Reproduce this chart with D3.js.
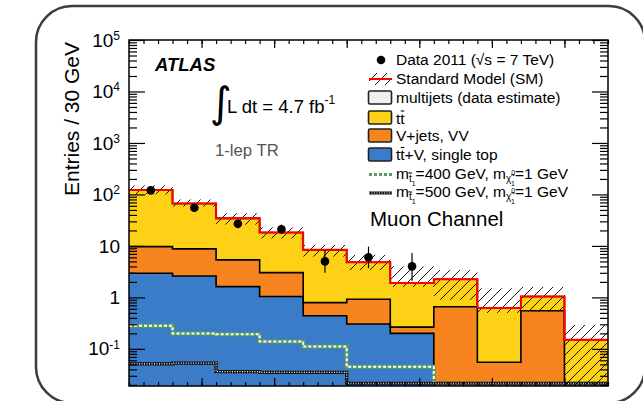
<!DOCTYPE html>
<html>
<head>
<meta charset="utf-8">
<script src="https://cdn.jsdelivr.net/npm/d3@7"></script>
<style>
  body { margin: 0; background: #fff; }
  svg { display: block; font-family: "Liberation Sans", Arial, Helvetica, sans-serif; }
</style>
</head>
<body>
<svg id="chart" width="643" height="401"></svg>
<script>
// Bin edges (GeV), 30 GeV per bin
const binEdges = [0, 30, 60, 90, 120, 150, 180, 210, 240, 270, 300, 330];

// Background expectations per bin (stacked, bottom to top)
const ttVSingleTop = [2.95, 2.6, 1.62, 1.04, 0.44, 0.305, 0.20, 0.022, 0, 0, 0];
const vJetsVV      = [6.75, 6.15, 3.73, 1.99, 0.35, 0.615, 0.064, 0.638, 0.055, 0.55, 0];
const ttbar        = [112, 58, 29, 15.2, 7.6, 3.9, 1.63, 1.59, 0.565, 0.49, 0.15];
const multijets    = [0, 0, 0, 0, 0, 0, 0, 0, 0, 0, 0];

// SM uncertainty band (lower / upper edge)
const smBandLow  = [100, 58, 26, 14, 6.2, 3.4, 1.6, 0.9, 0.5, 0.53, 0.01];
const smBandHigh = [150, 80, 43, 23, 10.4, 6.7, 4.0, 3.4, 1.5, 1.6, 0.29];

// Data 2011 (first seven bins) with error bar ends
const dataCounts = [120, 55, 27, 21, 5, 6, 4];
const dataErrLow  = [109, 48, 22, 17, 3.0, 3.7, 2.1];
const dataErrHigh = [131, 62, 32, 26, 8.4, 9.7, 7.3];

// Signal benchmarks
const stop400 = [0.28, 0.20, 0.193, 0.139, 0.111, 0.045, 0.045, 0.021, 0.021, 0.021, 0.021];
const stop500 = [0.051, 0.053, 0.036, 0.035, 0.035, 0.0215, 0.0215, 0.0215, 0.0215, 0.0215, 0.0215];

// Axis ticks
const yMajorTicks = [0.1, 1, 10, 100, 1000, 10000, 100000];
const yTickBase   = ["10", "1", "10", "10", "10", "10", "10"];
const yTickExp    = ["-1", "", "", "2", "3", "4", "5"];
const xMinorTicks = d3.range(0, 331, 10);
const xMajorTicks = [50, 100, 150, 200, 250, 300];

const svg = d3.select("#chart");
const plot = { l: 129, r: 608, t: 40, b: 386 };
const yMin = 0.019;

const x = d3.scaleLinear().domain([binEdges[0], binEdges[binEdges.length - 1]]).range([plot.l, plot.r]);
const y = d3.scaleLog().domain([yMin, 1e5]).range([plot.b, plot.t]).clamp(true);
const yv = v => y(Math.max(v, yMin));

const COLORS = { multijets: "#efefef", ttbar: "#fcd116", vjets: "#f7841f", ttv: "#3a7cc8", sm: "#ff0000", stop400: "#5a9a5c" };

// Outer rounded frame
svg.append("rect")
  .attr("x", 36).attr("y", 6).attr("width", 609).attr("height", 397)
  .attr("rx", 36).attr("ry", 36)
  .attr("fill", "none").attr("stroke", "#3c3c3c").attr("stroke-width", 2.5);

const defs = svg.append("defs");
defs.append("clipPath").attr("id", "plotClip").append("rect")
  .attr("x", plot.l).attr("y", plot.t).attr("width", plot.r - plot.l).attr("height", plot.b - plot.t);
const hatch = defs.append("pattern").attr("id", "hatch")
  .attr("patternUnits", "userSpaceOnUse").attr("width", 10).attr("height", 10);
hatch.append("path").attr("d", "M-1,1 L1,-1 M0,10 L10,0 M9,11 L11,9")
  .attr("stroke", "#000").attr("stroke-width", 0.9).attr("fill", "none");

// cumulative stacks
const cum1 = ttVSingleTop.slice();
const cum2 = cum1.map((v, i) => v + vJetsVV[i]);
const cum3 = cum2.map((v, i) => v + ttbar[i]);
const cum4 = cum3.map((v, i) => v + multijets[i]);

const steps = vals => vals.flatMap((v, i) => [[binEdges[i], v], [binEdges[i + 1], v]]);
const area = d3.area().x(d => x(d[0])).y0(plot.b).y1(d => yv(d[1]));
const line = d3.line().x(d => x(d[0])).y(d => yv(d[1]));

const g = svg.append("g").attr("clip-path", "url(#plotClip)");

[[cum4, COLORS.multijets], [cum3, COLORS.ttbar], [cum2, COLORS.vjets], [cum1, COLORS.ttv]].forEach(([vals, col]) => {
  g.append("path").attr("d", area(steps(vals))).attr("fill", col);
});
[cum1, cum2, cum3].forEach(vals => {
  g.append("path").attr("d", line(steps(vals))).attr("fill", "none")
    .attr("stroke", "#000").attr("stroke-width", 1.6);
});

// signal step lines
g.append("path").attr("d", line(steps(stop400))).attr("fill", "none")
  .attr("stroke", COLORS.stop400).attr("stroke-width", 4);
g.append("path").attr("d", line(steps(stop400))).attr("fill", "none")
  .attr("stroke", "#fff").attr("stroke-width", 2).attr("stroke-dasharray", "3 2");
g.append("path").attr("d", line(steps(stop500))).attr("fill", "none")
  .attr("stroke", "#111").attr("stroke-width", 3.2);
g.append("path").attr("d", line(steps(stop500))).attr("fill", "none")
  .attr("stroke", "#fff").attr("stroke-width", 1.2).attr("stroke-dasharray", "1 1.5");

// SM uncertainty hatch
g.selectAll("rect.band").data(binEdges.slice(0, -1)).join("rect")
  .attr("class", "band")
  .attr("x", (d, i) => x(binEdges[i]))
  .attr("width", (d, i) => x(binEdges[i + 1]) - x(binEdges[i]))
  .attr("y", (d, i) => yv(smBandHigh[i]))
  .attr("height", (d, i) => yv(smBandLow[i]) - yv(smBandHigh[i]))
  .attr("fill", "url(#hatch)");

// SM total
g.append("path").attr("d", line(steps(cum4))).attr("fill", "none")
  .attr("stroke", COLORS.sm).attr("stroke-width", 2);

// data
const center = i => x((binEdges[i] + binEdges[i + 1]) / 2);
g.selectAll("line.err").data(dataCounts).join("line")
  .attr("class", "err")
  .attr("x1", (d, i) => center(i)).attr("x2", (d, i) => center(i))
  .attr("y1", (d, i) => y(dataErrHigh[i])).attr("y2", (d, i) => y(dataErrLow[i]))
  .attr("stroke", "#000").attr("stroke-width", 1.2);
g.selectAll("circle.data").data(dataCounts).join("circle")
  .attr("class", "data")
  .attr("cx", (d, i) => center(i)).attr("cy", d => y(d)).attr("r", 4.3)
  .attr("fill", "#000");

// axes
function yMinor() {
  const out = [];
  for (let k = -2; k <= 4; k++) for (let m = 2; m <= 9; m++) {
    const v = m * Math.pow(10, k);
    if (v >= yMin && v <= 1e5) out.push(v);
  }
  return out;
}
const axes = svg.append("g");
const clean = sel => { sel.select(".domain").remove(); sel.selectAll("line").attr("stroke", "#000").attr("stroke-width", 1.2); };

axes.append("g").attr("transform", `translate(${plot.l},0)`)
  .call(d3.axisLeft(y).tickValues(yMinor()).tickSize(-8).tickFormat(""))
  .call(clean);
axes.append("g").attr("transform", `translate(${plot.r},0)`)
  .call(d3.axisRight(y).tickValues(yMinor()).tickSize(-8).tickFormat(""))
  .call(clean);
axes.append("g").attr("transform", `translate(${plot.r},0)`)
  .call(d3.axisRight(y).tickValues(yMajorTicks).tickSize(-16).tickFormat(""))
  .call(clean);
const yAx = axes.append("g").attr("transform", `translate(${plot.l},0)`)
  .call(d3.axisLeft(y).tickValues(yMajorTicks).tickSize(-16).tickPadding(9))
  .call(clean);
yAx.selectAll(".tick text").each(function(d, i) {
  const t = d3.select(this).text("")
    .attr("font-family", "Liberation Sans, Arial, sans-serif").attr("font-size", 19).attr("fill", "#000");
  t.append("tspan").text(yTickBase[i]);
  if (yTickExp[i]) t.append("tspan").attr("dy", "-0.55em").attr("font-size", 12).text(yTickExp[i]);
});

axes.append("g").attr("transform", `translate(0,${plot.b})`)
  .call(d3.axisBottom(x).tickValues(xMinorTicks).tickSize(-4).tickFormat("")).call(clean);
axes.append("g").attr("transform", `translate(0,${plot.b})`)
  .call(d3.axisBottom(x).tickValues(xMajorTicks).tickSize(-8).tickFormat("")).call(clean);
axes.append("g").attr("transform", `translate(0,${plot.t})`)
  .call(d3.axisTop(x).tickValues(xMinorTicks).tickSize(-4).tickFormat("")).call(clean);
axes.append("g").attr("transform", `translate(0,${plot.t})`)
  .call(d3.axisTop(x).tickValues(xMajorTicks).tickSize(-8).tickFormat("")).call(clean);

svg.append("rect").attr("x", plot.l).attr("y", plot.t)
  .attr("width", plot.r - plot.l).attr("height", plot.b - plot.t)
  .attr("fill", "none").attr("stroke", "#000").attr("stroke-width", 1.5);

// axis title
svg.append("text").attr("transform", "translate(79,119) rotate(-90)")
  .attr("text-anchor", "middle").attr("font-size", 21).text("Entries / 30 GeV");

// annotations
svg.append("text").attr("x", 155).attr("y", 71).attr("font-size", 18.5)
  .attr("font-weight", "bold").attr("font-style", "italic").text("ATLAS");
svg.append("text").attr("x", 210).attr("y", 117).attr("font-size", 42)
  .attr("font-family", "DejaVu Sans, sans-serif").attr("transform", "scale(1,1)").text("∫");
const lumi = svg.append("text").attr("x", 227).attr("y", 113).attr("font-size", 18.5);
lumi.append("tspan").text("L dt = 4.7 fb");
lumi.append("tspan").attr("dy", -9).attr("font-size", 12).text("-1");
svg.append("text").attr("x", 215).attr("y", 156).attr("font-size", 16.7)
  .attr("fill", "#555").text("1-lep TR");
svg.append("text").attr("x", 370).attr("y", 226).attr("font-size", 20.5).text("Muon Channel");

// legend
const lg = svg.append("g").attr("font-size", 15.5);
const tx = 396;
// data
lg.append("circle").attr("cx", 381).attr("cy", 60).attr("r", 4.3).attr("fill", "#000");
lg.append("text").attr("x", tx).attr("y", 65).text("Data 2011 (√s = 7 TeV)");
// SM
lg.append("rect").attr("x", 369).attr("y", 73).attr("width", 23).attr("height", 12).attr("fill", "url(#hatch)");
lg.append("line").attr("x1", 369).attr("x2", 392).attr("y1", 79).attr("y2", 79)
  .attr("stroke", COLORS.sm).attr("stroke-width", 2);
lg.append("text").attr("x", tx).attr("y", 83.5).text("Standard Model (SM)");
// boxes
const boxRows = [
  { y: 91, fill: COLORS.multijets },
  { y: 111, fill: COLORS.ttbar },
  { y: 129, fill: COLORS.vjets },
  { y: 148, fill: COLORS.ttv }
];
boxRows.forEach(r => lg.append("rect").attr("x", 368.5).attr("y", r.y).attr("width", 23).attr("height", 13)
  .attr("rx", 1.5).attr("fill", r.fill).attr("stroke", "#222").attr("stroke-width", 1.6));
lg.append("text").attr("x", tx).attr("y", 103).text("multijets (data estimate)");

// t t-bar label: bar drawn over the second t
function ttbarLabel(yb, rest) {
  const t = lg.append("text").attr("x", tx).attr("y", yb).text("tt" + rest);
  const node = t.node();
  const ext = node.getExtentOfChar(1);
  lg.append("line")
    .attr("x1", ext.x + 0.5).attr("x2", ext.x + ext.width - 0.3)
    .attr("y1", yb - 12.5).attr("y2", yb - 12.5)
    .attr("stroke", "#000").attr("stroke-width", 1.1);
}
ttbarLabel(123.5, "");
lg.append("text").attr("x", tx).attr("y", 141).text("V+jets, VV");
ttbarLabel(160, "+V, single top");

// signal samples
lg.append("line").attr("x1", 369).attr("x2", 392).attr("y1", 174.5).attr("y2", 174.5)
  .attr("stroke", COLORS.stop400).attr("stroke-width", 3).attr("stroke-dasharray", "3 2");
lg.append("line").attr("x1", 369).attr("x2", 392).attr("y1", 193).attr("y2", 193)
  .attr("stroke", "#111").attr("stroke-width", 3);
lg.append("line").attr("x1", 369).attr("x2", 392).attr("y1", 193).attr("y2", 193)
  .attr("stroke", "#fff").attr("stroke-width", 1.2).attr("stroke-dasharray", "1 1.5");

function signalLabel(yb, mass) {
  const t = lg.append("text").attr("x", tx).attr("y", yb);
  t.append("tspan").text("m");
  t.append("tspan").attr("dy", 3).attr("font-size", 10).text("t\u0303");
  t.append("tspan").attr("dy", 4).attr("font-size", 7).text("1");
  t.append("tspan").attr("dy", -7).text(`=${mass} GeV, m`);
  t.append("tspan").attr("dy", 3).attr("font-size", 10).text("\u03c7\u0303");
  t.append("tspan").attr("dy", -7).attr("font-size", 7).text("0");
  t.append("tspan").attr("dx", -4).attr("dy", 11).attr("font-size", 7).text("1");
  t.append("tspan").attr("dy", -7).text("=1 GeV");
}
signalLabel(178.5, 400);
signalLabel(197, 500);
</script>
</body>
</html>
